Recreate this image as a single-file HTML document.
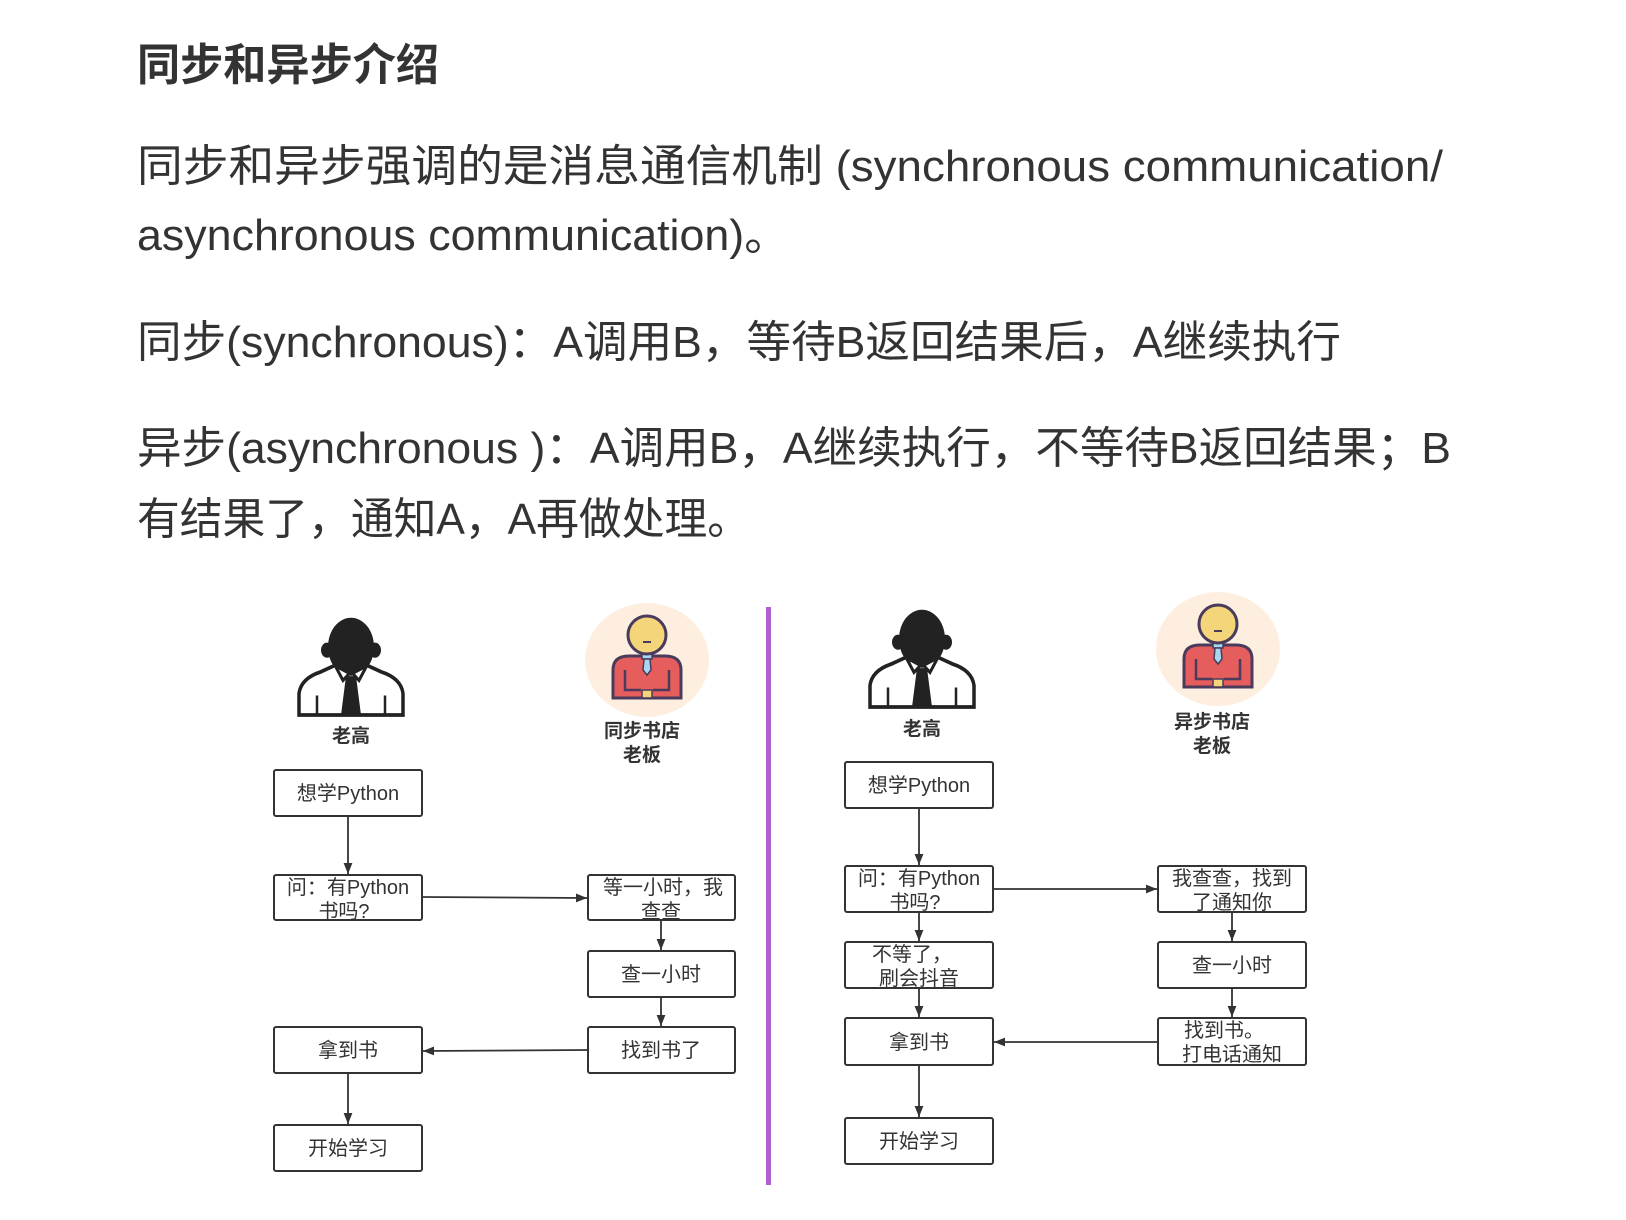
<!DOCTYPE html>
<html><head><meta charset="utf-8"><style>
html,body{margin:0;padding:0;background:#fff;}
svg{display:block;}
.t{font-family:"Liberation Sans","Noto Sans CJK SC",sans-serif;fill:#333;}
.b{fill:#fff;stroke:#333;stroke-width:2;}
.l{stroke:#333;stroke-width:1.8;fill:none;}
.bx{font-family:"Liberation Sans","Noto Sans CJK SC",sans-serif;fill:#333;font-size:20px;text-anchor:middle;}
.lb{font-family:"Liberation Sans","Noto Sans CJK SC",sans-serif;fill:#333;font-size:19px;font-weight:bold;text-anchor:middle;}
</style></head><body>
<svg width="1626" height="1220" viewBox="0 0 1626 1220" xmlns="http://www.w3.org/2000/svg">
<defs>
<marker id="a" viewBox="0 0 10 10" refX="10" refY="5" markerWidth="11" markerHeight="11" orient="auto" markerUnits="userSpaceOnUse"><path d="M0,1 L10,5 L0,9 Z" fill="#333"/></marker>
<g id="p">
<ellipse cx="-24" cy="2" rx="6" ry="7" fill="#222"/><ellipse cx="24" cy="2" rx="6" ry="7" fill="#222"/>
<ellipse cx="0" cy="-1" rx="23" ry="27" fill="#222"/>
<path d="M-52,62 L-52,42 Q-50,28 -30,22 L-16,16 L0,24 L16,16 L30,22 Q50,28 52,42 L52,62 Z" fill="#fff" stroke="#222" stroke-width="3.5"/>
<path d="M-16,16 L-8,30 L0,22 L8,30 L16,16" fill="none" stroke="#222" stroke-width="3"/>
<path d="M-5,26 L5,26 L10,62 L-10,62 Z" fill="#222"/>
<path d="M-34,44 L-34,62 M34,44 L34,62" stroke="#222" stroke-width="2.5"/>
</g>
<g id="bo">
<ellipse cx="0" cy="0" rx="62" ry="57" fill="#fdeee0"/>
<path d="M-34,38 L-34,10 Q-34,-4 -18,-4 L18,-4 Q34,-4 34,10 L34,38 Z" fill="#e65d5d" stroke="#4a3b5c" stroke-width="3"/>
<path d="M-22,10 L-22,30 L-6,30 M22,10 L22,30 L6,30" fill="none" stroke="#4a3b5c" stroke-width="2.5"/>
<rect x="-5" y="30" width="10" height="8" fill="#f5d57a" stroke="#4a3b5c" stroke-width="1.5"/>
<rect x="-5" y="-7" width="10" height="6" fill="#a9d7ef" stroke="#4a3b5c" stroke-width="1.5"/>
<path d="M-3,-1 L3,-1 L4,10 L0,15 L-4,10 Z" fill="#a9d7ef" stroke="#4a3b5c" stroke-width="1.5"/>
<circle cx="0" cy="-25" r="19" fill="#f5d57a" stroke="#4a3b5c" stroke-width="3"/>
<path d="M-4,-18 L4,-18" stroke="#4a3b5c" stroke-width="2"/>
</g>
</defs>

<text class="t" x="137" y="80" font-size="44" font-weight="bold" textLength="302" lengthAdjust="spacingAndGlyphs">同步和异步介绍</text>
<text class="t" x="137" y="181" font-size="44" textLength="1306" lengthAdjust="spacingAndGlyphs">同步和异步强调的是消息通信机制 (synchronous communication/</text>
<text class="t" x="137" y="250" font-size="44" textLength="652" lengthAdjust="spacingAndGlyphs">asynchronous communication)。</text>
<text class="t" x="137" y="357" font-size="44" textLength="1204" lengthAdjust="spacingAndGlyphs">同步(synchronous)：A调用B，等待B返回结果后，A继续执行</text>
<text class="t" x="137" y="463" font-size="44" textLength="1314" lengthAdjust="spacingAndGlyphs">异步(asynchronous )：A调用B，A继续执行，不等待B返回结果；B</text>
<text class="t" x="137" y="534" font-size="44" textLength="613" lengthAdjust="spacingAndGlyphs">有结果了，通知A，A再做处理。</text>

<g transform="translate(-4,-3)">
<rect x="770" y="610" width="5" height="578" fill="#b05fd0"/>
</g>

<!-- LEFT -->
<g transform="translate(-1,-3)">
<g transform="translate(352,651) scale(1,1.08)"><use href="#p"/></g>
<text class="lb" x="352" y="745">老高</text>
<use href="#bo" x="648" y="663"/>
<text class="lb" x="643" y="740">同步书店</text>
<text class="lb" x="643" y="764">老板</text>

<rect class="b" x="275" y="773" width="148" height="46" rx="2"/><text class="bx" x="349" y="803">想学Python</text>
<rect class="b" x="275" y="878" width="148" height="45" rx="2"/><text class="bx" x="349" y="897">问：有Python</text><text class="bx" x="345" y="921">书吗?</text>
<rect class="b" x="589" y="878" width="147" height="45" rx="2"/><text class="bx" x="664" y="897">等一小时，我</text><text class="bx" x="662" y="921">查查</text>
<rect class="b" x="589" y="954" width="147" height="46" rx="2"/><text class="bx" x="662" y="984">查一小时</text>
<rect class="b" x="589" y="1030" width="147" height="46" rx="2"/><text class="bx" x="662" y="1060">找到书了</text>
<rect class="b" x="275" y="1030" width="148" height="46" rx="2"/><text class="bx" x="349" y="1060">拿到书</text>
<rect class="b" x="275" y="1128" width="148" height="46" rx="2"/><text class="bx" x="349" y="1158">开始学习</text>
<path class="l" d="M349,819 L349,877" marker-end="url(#a)"/>
<path class="l" d="M423,900 L588,901" marker-end="url(#a)"/>
<path class="l" d="M662,923 L662,953" marker-end="url(#a)"/>
<path class="l" d="M662,1000 L662,1029" marker-end="url(#a)"/>
<path class="l" d="M589,1053 L424,1054" marker-end="url(#a)"/>
<path class="l" d="M349,1076 L349,1127" marker-end="url(#a)"/>
</g>

<!-- RIGHT -->
<g transform="translate(-4,-3)">
<g transform="translate(926,643) scale(1,1.08)"><use href="#p"/></g>
<text class="lb" x="926" y="738">老高</text>
<use href="#bo" x="1222" y="652"/>
<text class="lb" x="1216" y="731">异步书店</text>
<text class="lb" x="1216" y="755">老板</text>

<rect class="b" x="849" y="765" width="148" height="46" rx="2"/><text class="bx" x="923" y="795">想学Python</text>
<rect class="b" x="849" y="869" width="148" height="46" rx="2"/><text class="bx" x="923" y="888">问：有Python</text><text class="bx" x="919" y="912">书吗?</text>
<rect class="b" x="849" y="945" width="148" height="46" rx="2"/><text class="bx" x="916" y="964">不等了，</text><text class="bx" x="923" y="988">刷会抖音</text>
<rect class="b" x="849" y="1021" width="148" height="47" rx="2"/><text class="bx" x="923" y="1052">拿到书</text>
<rect class="b" x="849" y="1121" width="148" height="46" rx="2"/><text class="bx" x="923" y="1151">开始学习</text>
<rect class="b" x="1162" y="869" width="148" height="46" rx="2"/><text class="bx" x="1236" y="888">我查查，找到</text><text class="bx" x="1236" y="912">了通知你</text>
<rect class="b" x="1162" y="945" width="148" height="46" rx="2"/><text class="bx" x="1236" y="975">查一小时</text>
<rect class="b" x="1162" y="1021" width="148" height="47" rx="2"/><text class="bx" x="1228" y="1040">找到书。</text><text class="bx" x="1236" y="1064">打电话通知</text>
<path class="l" d="M923,811 L923,868" marker-end="url(#a)"/>
<path class="l" d="M997,892 L1161,892" marker-end="url(#a)"/>
<path class="l" d="M923,915 L923,944" marker-end="url(#a)"/>
<path class="l" d="M923,991 L923,1020" marker-end="url(#a)"/>
<path class="l" d="M923,1068 L923,1120" marker-end="url(#a)"/>
<path class="l" d="M1236,915 L1236,944" marker-end="url(#a)"/>
<path class="l" d="M1236,991 L1236,1020" marker-end="url(#a)"/>
<path class="l" d="M1162,1045 L998,1045" marker-end="url(#a)"/>
</g>
</svg>
</body></html>
